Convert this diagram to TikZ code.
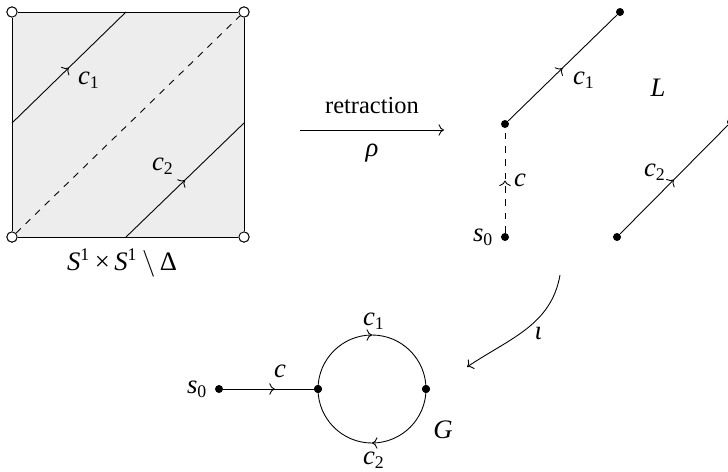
\documentclass[tikz,border=0pt]{standalone}
\usepackage{fontspec}
\setmainfont{Liberation Serif}
\usetikzlibrary{arrows.meta,positioning,decorations.markings}
\newcommand{\sublab}[2]{\textit{#1}\textsubscript{#2}}
\tikzset{
 dot/.style={
 circle,
 fill=black,
 inner sep=0pt,
 minimum size=3.6pt
 },
 hole/.style={
 circle,
 draw=black,
 fill=white,
 inner sep=0pt,
 minimum size=4.6pt
 },
 lbl/.style={
 inner sep=1pt,
 font=\large
 },
 mid/.style={
 postaction={decorate},
 decoration={markings, mark=at position #1 with {\arrow{>}}}
 },
 mid/.default=0.5
}

\begin{document}
\begin{tikzpicture}[x=0.45pt, y=-0.45pt]
	\useasboundingbox (0,0) rectangle (728,471);

	\node[hole] (sqTL) at (12,12) {};
	\node[hole] (sqTR) at (244,12) {};
	\node[hole] (sqBL) at (12,237) {};
	\node[hole] (sqBR) at (244,237) {};
	\coordinate (sqCa) at (12,123);
	\coordinate (sqCb) at (126,12);
	\coordinate (sqDa) at (126,237);
	\coordinate (sqDb) at (244,123);

	\fill[black!7] (sqBL.center) rectangle (sqTR.center);
	\draw (sqTL) -- (sqTR) -- (sqBR) -- (sqBL) -- (sqTL);
	\draw[dashed] (sqBL) -- (sqTR);
	\draw[mid] (sqCa) -- (sqCb);
	\draw[mid] (sqDa) -- (sqDb);
	\node[hole] at (sqTL) {};
	\node[hole] at (sqTR) {};
	\node[hole] at (sqBL) {};
	\node[hole] at (sqBR) {};
	\node[lbl] (sqc1) at (89,80) {\sublab{c}{1}};
	\node[lbl] (sqc2) at (163,166) {\sublab{c}{2}};
	\node[lbl] (sqname) at (122,263) {\textit{S}\textsuperscript{1}\,×\,\textit{S}\textsuperscript{1}\,$\setminus$\,Δ};

	\coordinate (rA) at (300,130);
	\coordinate (rB) at (444,130);
	\draw[->] (rA) -- node[above=4pt, font=\fontsize{11}{13}\selectfont] {retraction} node[below=5pt, lbl] {\textit{ρ}} (rB);

	\node[dot] (ls0) at (505,237) {};
	\node[dot] (lA) at (505,124) {};
	\node[dot] (lB) at (620,12) {};
	\node[dot] (lC) at (617,237) {};
	\node[dot] (lD) at (731,122) {};
	\draw[dashed, mid] (ls0) -- (lA);
	\draw[mid] (lA) -- (lB);
	\draw[mid] (lC) -- (lD);
	\node[lbl, left=2pt of ls0] (ls0l) {\sublab{s}{0}};
	\node[lbl] (lcl) at (520,180) {\textit{c}};
	\node[lbl] (lc1) at (584,80) {\sublab{c}{1}};
	\node[lbl] (lc2) at (655,172) {\sublab{c}{2}};
	\node[lbl] (lname) at (658,88) {\textit{L}};

	\coordinate (iA) at (560,275);
	\coordinate (iB) at (467,367);
	\draw[->] (iA) to[out=-100, in=34] node[right=5pt, pos=0.55, lbl] {\textit{ι}} (iB);

	\node[dot] (gs0) at (219,389) {};
	\node[dot] (gL) at (318,389) {};
	\node[dot] (gR) at (426,389) {};
	\draw[mid=0.57] (gs0) -- (gL);
	\draw[mid] (gL.center) arc[start angle=180, end angle=360, radius=54];
	\draw[mid] (gR.center) arc[start angle=0, end angle=180, radius=54];
	\node[dot] at (gL) {};
	\node[dot] at (gR) {};
	\node[lbl, left=2pt of gs0] (gs0l) {\sublab{s}{0}};
	\node[lbl] (gcl) at (280,371) {\textit{c}};
	\node[lbl] (gc1) at (374,321) {\sublab{c}{1}};
	\node[lbl] (gc2) at (374,460) {\sublab{c}{2}};
	\node[lbl] (gname) at (443,430) {\textit{G}};
\end{tikzpicture}
\end{document}
